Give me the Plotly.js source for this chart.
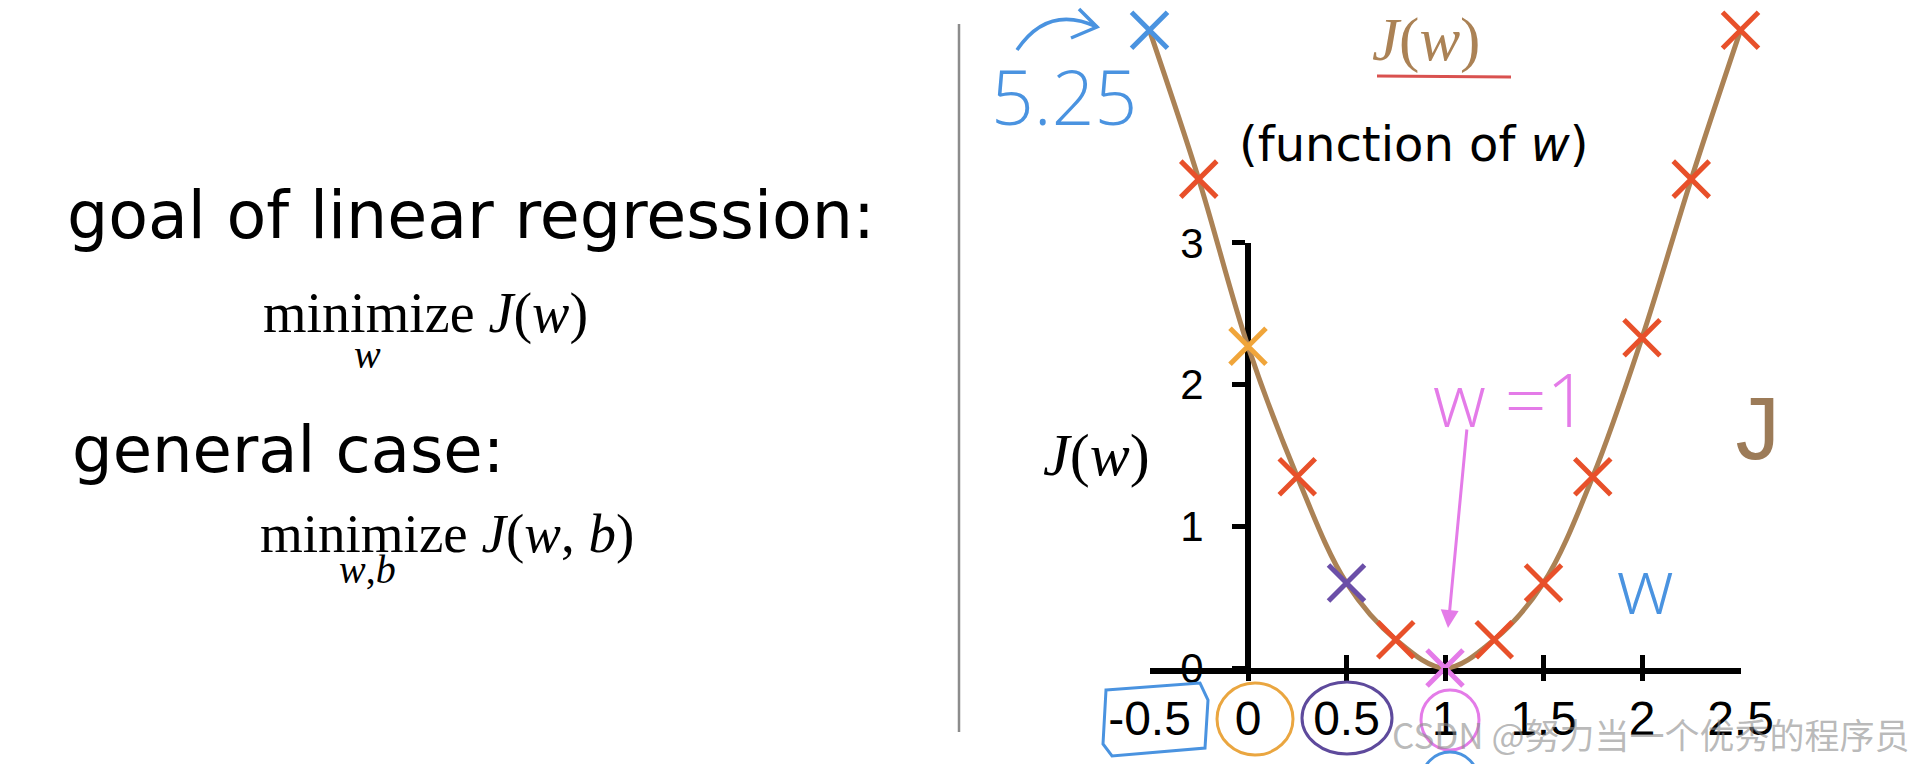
<!DOCTYPE html>
<html>
<head>
<meta charset="utf-8">
<script src="https://cdn.plot.ly/plotly-3.0.1.min.js"></script>
<style>
  html, body { margin: 0; padding: 0; background: #ffffff; }
  #chart { width: 1916px; height: 764px; }
</style>
</head>
<body>
<div id="chart"></div>
<script>
// ---- data ----
const wValues = [-0.5, -0.25, 0, 0.25, 0.5, 0.75, 1, 1.25, 1.5, 1.75, 2, 2.25, 2.5];
const jValues = [4.5, 3.45, 2.27, 1.35, 0.6, 0.2, 0, 0.2, 0.6, 1.35, 2.33, 3.45, 4.5];
const markerColors = ['#4a93e0', '#e8502a', '#f0a53a', '#e8502a', '#6b4fa8', '#e8502a',
                      '#e47be8', '#e8502a', '#e8502a', '#e8502a', '#e8502a', '#e8502a', '#e8502a'];
const xTickVals = [-0.5, 0, 0.5, 1, 1.5, 2, 2.5];
const xTickText = ['-0.5', '0', '0.5', '1', '1.5', '2', '2.5'];
const yTickVals = [0, 1, 2, 3];
const yTickText = ['0', '1', '2', '3'];

// ---- page geometry (pixels) ----
const W = 1916, H = 764;
const px = v => v / W;            // pixel x -> paper x
const py = v => 1 - v / H;        // pixel y -> paper y
const X0 = 1248, XU = 197;        // pixel of w=0, pixels per unit w
const Y0 = 668, YU = 141.7;       // pixel of J=0, pixels per unit J

const curveColor = '#ab8255';
const axisFont = 'Liberation Sans Narrow, Arial Narrow, Liberation Sans, sans-serif';
const sansFont = 'DejaVu Sans, Verdana, sans-serif';
const serifFont = 'Liberation Serif, DejaVu Serif, serif';
const handFont = 'Open Sans, Lato, sans-serif';

// invisible helper traces so that the axes-only subplots are drawn
const helperTrace = (xa, ya) => ({
  x: xTickVals, y: xTickVals.map(() => 0), xaxis: xa, yaxis: ya, type: 'scatter', mode: 'markers',
  marker: { opacity: 0, size: 1 }, showlegend: false, hoverinfo: 'skip'
});

const traces = [
  helperTrace('x', 'y'),
  helperTrace('x3', 'y4'),
  helperTrace('x5', 'y5'),
  // cost curve
  { x: wValues, y: jValues, xaxis: 'x2', yaxis: 'y2', type: 'scatter', mode: 'lines',
    line: { color: curveColor, width: 5, shape: 'spline', smoothing: 1 }, showlegend: false, hoverinfo: 'skip' },
  // x markers
  { x: wValues, y: jValues, xaxis: 'x2', yaxis: 'y2', type: 'scatter', mode: 'markers',
    marker: { symbol: 'x-thin', size: 36, line: { width: 5, color: markerColors }, color: markerColors },
    cliponaxis: false, showlegend: false, hoverinfo: 'skip' }
];

const baseAxis = {
  showgrid: false, zeroline: false, fixedrange: true
};

const xDom = [px(X0 - 0.5 * XU), px(X0 + 2.5 * XU)];
const yDom = [py(Y0), py(Y0 - 3 * YU)];

const layout = {
  width: W, height: H,
  margin: { l: 0, r: 0, t: 0, b: 0 },
  paper_bgcolor: '#ffffff', plot_bgcolor: 'rgba(0,0,0,0)',
  showlegend: false,
  // visible axes: line, upward ticks and labels
  xaxis: Object.assign({}, baseAxis, {
    domain: xDom, range: [-0.5, 2.5], anchor: 'y',
    showline: true, linecolor: '#000', linewidth: 6,
    ticks: 'inside', ticklen: 13, tickwidth: 5, tickcolor: '#000',
    tickmode: 'array', tickvals: xTickVals, ticktext: xTickText,
    tickfont: { family: axisFont, size: 48, color: '#000' }, ticklabelstandoff: 3
  }),
  yaxis: Object.assign({}, baseAxis, {
    domain: yDom, range: [0, 3], anchor: 'free', position: px(X0),
    showline: true, linecolor: '#000', linewidth: 6,
    ticks: 'outside', ticklen: 13, tickwidth: 5, tickcolor: '#000',
    tickmode: 'array', tickvals: yTickVals, ticktext: yTickText,
    tickfont: { family: axisFont, size: 42, color: '#000' }, ticklabelstandoff: 20
  }),
  // lower half of the x ticks (below the line), own thin subplot
  xaxis3: Object.assign({}, baseAxis, {
    domain: xDom, range: [-0.5, 2.5], anchor: 'y4', side: 'top', showline: false,
    ticks: 'inside', ticklen: 13, tickwidth: 5, tickcolor: '#000',
    tickmode: 'array', tickvals: xTickVals, showticklabels: false
  }),
  yaxis4: Object.assign({}, baseAxis, {
    domain: [py(Y0 + 14), py(Y0)], range: [-1, 1], anchor: 'x3', visible: false
  }),
  // right half of the cap at the top of the y axis
  xaxis5: Object.assign({}, baseAxis, {
    domain: [px(X0), px(X0 + 14)], range: [-1, 1], anchor: 'y5', visible: false
  }),
  yaxis5: Object.assign({}, baseAxis, {
    domain: yDom, range: [0, 3], anchor: 'x5', side: 'left', showline: false,
    ticks: 'inside', ticklen: 13, tickwidth: 5, tickcolor: '#000',
    tickmode: 'array', tickvals: [3], showticklabels: false
  }),
  // data subplot spanning the page, axes hidden
  xaxis2: Object.assign({}, baseAxis, {
    domain: [0, 1], anchor: 'y2', range: [-X0 / XU, (W - X0) / XU], visible: false
  }),
  yaxis2: Object.assign({}, baseAxis, {
    domain: [0, 1], anchor: 'x2', range: [-(H - Y0) / YU, Y0 / YU], visible: false
  }),
  shapes: [
    // vertical separator
    { type: 'line', xref: 'paper', yref: 'paper', x0: px(959), x1: px(959), y0: py(24), y1: py(732),
      line: { color: '#8c8c8c', width: 2.5 } },
    // red underline under J(w) title
    { type: 'line', xref: 'paper', yref: 'paper', x0: px(1377), x1: px(1511), y0: py(76), y1: py(77),
      line: { color: '#d9514f', width: 3 } },
    // blue curved arrow
    { type: 'path', xref: 'paper', yref: 'paper',
      path: `M ${px(1017)} ${py(50)} Q ${px(1048)} ${py(4)} ${px(1097)} ${py(27)}`,
      line: { color: '#4a93e0', width: 3.5 } },
    { type: 'path', xref: 'paper', yref: 'paper',
      path: `M ${px(1079)} ${py(9)} L ${px(1097)} ${py(27)} L ${px(1071)} ${py(38)}`,
      line: { color: '#4a93e0', width: 3.5 } },
    // marks around tick labels
    { type: 'path', xref: 'paper', yref: 'paper',
      path: `M ${px(1106)} ${py(690)} L ${px(1200)} ${py(683)} L ${px(1208)} ${py(700)} L ${px(1205)} ${py(748)} L ${px(1112)} ${py(756)} L ${px(1103)} ${py(744)} Z`,
      line: { color: '#4a93e0', width: 3 } },
    { type: 'circle', xref: 'paper', yref: 'paper', x0: px(1217), x1: px(1293), y0: py(683), y1: py(755),
      line: { color: '#eaa640', width: 3 } },
    { type: 'circle', xref: 'paper', yref: 'paper', x0: px(1302), x1: px(1392), y0: py(682), y1: py(754),
      line: { color: '#5e4a9c', width: 3 } },
    { type: 'circle', xref: 'paper', yref: 'paper', x0: px(1421), x1: px(1479), y0: py(690), y1: py(750),
      line: { color: '#e47be8', width: 3 } },
    { type: 'circle', xref: 'paper', yref: 'paper', x0: px(1422), x1: px(1478), y0: py(752), y1: py(808),
      line: { color: '#4a93e0', width: 3 } }
  ],
  annotations: [
    { text: 'goal of linear regression:', xref: 'paper', yref: 'paper', x: px(65), y: py(216),
      xanchor: 'left', yanchor: 'middle', showarrow: false,
      font: { family: sansFont, size: 65, color: '#000' } },
    { text: 'minimize <i>J</i>(<i>w</i>)', xref: 'paper', yref: 'paper', x: px(261), y: py(314),
      xanchor: 'left', yanchor: 'middle', showarrow: false,
      font: { family: serifFont, size: 56, color: '#000' } },
    { text: '<i>w</i>', xref: 'paper', yref: 'paper', x: px(367), y: py(354),
      xanchor: 'center', yanchor: 'middle', showarrow: false,
      font: { family: serifFont, size: 40, color: '#000' } },
    { text: 'general case:', xref: 'paper', yref: 'paper', x: px(70), y: py(450),
      xanchor: 'left', yanchor: 'middle', showarrow: false,
      font: { family: sansFont, size: 64, color: '#000' } },
    { text: 'minimize <i>J</i>(<i>w</i>, <i>b</i>)', xref: 'paper', yref: 'paper', x: px(258), y: py(533),
      xanchor: 'left', yanchor: 'middle', showarrow: false,
      font: { family: serifFont, size: 55, color: '#000' } },
    { text: '<i>w</i>,<i>b</i>', xref: 'paper', yref: 'paper', x: px(367), y: py(569),
      xanchor: 'center', yanchor: 'middle', showarrow: false,
      font: { family: serifFont, size: 40, color: '#000' } },
    // right panel labels
    { text: '<i>J</i>(<i>w</i>)', xref: 'paper', yref: 'paper', x: px(1426), y: py(40),
      xanchor: 'center', yanchor: 'middle', showarrow: false,
      font: { family: serifFont, size: 61, color: curveColor } },
    { text: '(function of <i>w</i>)', xref: 'paper', yref: 'paper', x: px(1414), y: py(144),
      xanchor: 'center', yanchor: 'middle', showarrow: false,
      font: { family: sansFont, size: 48, color: '#000' } },
    { text: '<i>J</i>(<i>w</i>)', xref: 'paper', yref: 'paper', x: px(1096), y: py(455),
      xanchor: 'center', yanchor: 'middle', showarrow: false,
      font: { family: serifFont, size: 60, color: '#000' } },
    // hand-written notes
    { text: '5.25', xref: 'paper', yref: 'paper', x: px(1064), y: py(96),
      xanchor: 'center', yanchor: 'middle', showarrow: false,
      font: { family: handFont, size: 75, color: '#4a93e0', weight: 300 } },
    { text: 'w =1', xref: 'paper', yref: 'paper', x: px(1510), y: py(398),
      xanchor: 'center', yanchor: 'middle', showarrow: false,
      font: { family: handFont, size: 73, color: '#e47be8', weight: 300 } },
    { text: '', xref: 'paper', yref: 'paper', x: px(1448), y: py(628), ax: 19, ay: -200,
      showarrow: true, arrowhead: 2, arrowsize: 1.2, arrowwidth: 3, arrowcolor: '#e47be8' },
    { text: 'J', xref: 'paper', yref: 'paper', x: px(1756), y: py(434),
      xanchor: 'center', yanchor: 'middle', showarrow: false,
      font: { family: 'Liberation Mono, DejaVu Sans Mono, monospace', size: 92, color: '#9c7b58' } },
    { text: 'w', xref: 'paper', yref: 'paper', x: px(1645), y: py(584),
      xanchor: 'center', yanchor: 'middle', showarrow: false,
      font: { family: handFont, size: 78, color: '#4a93e0', weight: 300 } },
    // watermark
    { text: 'CSDN @努力当一个优秀的程序员', xref: 'paper', yref: 'paper', x: px(1912), y: py(733),
      xanchor: 'right', yanchor: 'middle', showarrow: false,
      font: { family: 'Noto Sans CJK SC, sans-serif', size: 35, color: 'rgba(140,140,140,0.6)' } }
  ]
};

Plotly.newPlot('chart', traces, layout, { staticPlot: true, displayModeBar: false });
</script>
</body>
</html>
